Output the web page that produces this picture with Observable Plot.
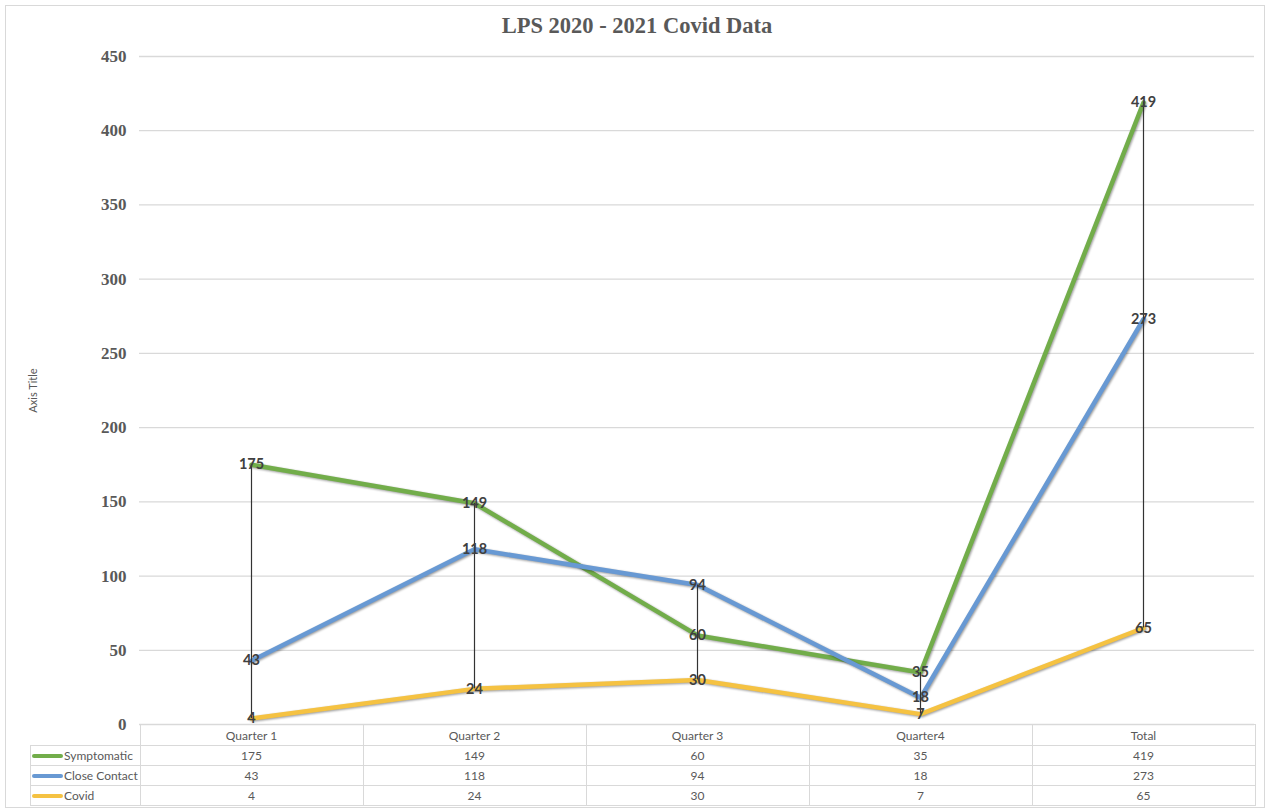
<!DOCTYPE html>
<html><head><meta charset="utf-8">
<script src="https://cdn.jsdelivr.net/npm/d3@7"></script>
<script src="https://cdn.jsdelivr.net/npm/@observablehq/plot@0.6"></script>
<style>
body{margin:0;background:#fff;width:1270px;height:811px;overflow:hidden;}
#frame{position:absolute;left:5px;top:5px;width:1260px;height:803px;border:1.5px solid #d9d9d9;box-sizing:border-box;}
#title{position:absolute;left:2px;width:1270px;top:13px;text-align:center;font:bold 22.5px "Liberation Serif","Times New Roman",serif;color:#595959;}
#chart{position:absolute;left:0;top:0;}
#table{position:absolute;left:30px;top:724px;border-collapse:collapse;table-layout:fixed;font:12px Lato,sans-serif;color:#595959;}
#table td{border:1.5px solid #d9d9d9;padding:0;text-align:center;white-space:nowrap;overflow:hidden;}
#table tr.head td{height:20px;}
#table tr.row td{height:19px;}
#table td.blank{border:none;border-bottom:1.5px solid #d9d9d9;}
#table td.key{text-align:left;padding-left:1px;}
.sw{display:inline-block;width:31px;height:4px;border-radius:2px;vertical-align:middle;margin-right:1px;position:relative;top:-1px;}
</style>
</head><body>
<div id="frame"></div>
<div id="chart"></div>
<div id="title">LPS 2020 - 2021 Covid Data</div>
<table id="table"></table>
<script>
const categories = ["Quarter 1", "Quarter 2", "Quarter 3", "Quarter4", "Total"];
const seriesNames = ["Symptomatic", "Close Contact", "Covid"];
const symptomatic = [175, 149, 60, 35, 419];
const closeContact = [43, 118, 94, 18, 273];
const covid = [4, 24, 30, 7, 65];
const yTicks = [0, 50, 100, 150, 200, 250, 300, 350, 400, 450];
const seriesColors = ["#72ad4a", "#6899d3", "#f5c242"];

const seriesValues = [symptomatic, closeContact, covid];
const data = [];
seriesNames.forEach((s, i) => categories.forEach((c, j) => data.push({series: s, category: c, value: seriesValues[i][j]})));
const hiLo = categories.map((c, j) => {
  const vals = seriesValues.map(v => v[j]);
  return {category: c, lo: d3.min(vals), hi: d3.max(vals)};
});

const plot = Plot.plot({
  width: 1270,
  height: 726,
  marginLeft: 139,
  marginRight: 16,
  marginTop: 56,
  marginBottom: 2,
  style: {background: "transparent", overflow: "visible"},
  x: {type: "point", domain: categories, padding: 0.5, axis: null},
  y: {domain: [0, 450]},
  color: {domain: seriesNames, range: seriesColors},
  marks: [
    Plot.gridY(yTicks, {stroke: "#d9d9d9", strokeOpacity: 1, strokeWidth: 1.3}),
    Plot.axisY(yTicks, {tickSize: 0, tickPadding: 13, fontSize: 17, fontWeight: "bold", fontFamily: "Liberation Serif", color: "#595959", label: null}),
    Plot.text(["Axis Title"], {frameAnchor: "left", rotate: -90, dx: -106, textAnchor: "middle", fontSize: 11, fontFamily: "Lato", fill: "#595959"}),
    Plot.line(data, {x: "category", y: "value", z: "series", stroke: "series", strokeWidth: 4.5, curve: "linear"}),
    Plot.ruleX(hiLo, {x: "category", y1: "lo", y2: "hi", stroke: "#333", strokeWidth: 1.2}),
    Plot.text(data, {x: "category", y: "value", text: d => String(d.value), fontWeight: "bold", fontSize: 14.5, fontFamily: "Lato", fill: "#404040"})
  ]
});
plot.querySelectorAll('g[aria-label="line"] path').forEach(p => p.style.filter = "drop-shadow(1px 1.5px 1px rgba(0,0,0,0.4))");
document.getElementById("chart").appendChild(plot);

// data table aligned with the x scale
const xs = plot.scale("x");
const step = xs.step !== undefined ? xs.step : (xs.apply(categories[1]) - xs.apply(categories[0]));
const left0 = xs.apply(categories[0]) - step / 2;
const table = document.getElementById("table");
const colgroup = document.createElement("colgroup");
const keyCol = document.createElement("col");
keyCol.style.width = (left0 - 30) + "px";
colgroup.appendChild(keyCol);
categories.forEach(() => { const c = document.createElement("col"); c.style.width = step + "px"; colgroup.appendChild(c); });
table.appendChild(colgroup);
table.style.width = (left0 - 30 + step * categories.length) + "px";
const head = document.createElement("tr"); head.className = "head";
const blank = document.createElement("td"); blank.className = "blank"; head.appendChild(blank);
categories.forEach(c => { const td = document.createElement("td"); td.textContent = c; head.appendChild(td); });
table.appendChild(head);
seriesNames.forEach((s, i) => {
  const tr = document.createElement("tr"); tr.className = "row";
  const k = document.createElement("td"); k.className = "key";
  const sw = document.createElement("span"); sw.className = "sw"; sw.style.background = seriesColors[i];
  k.appendChild(sw); k.appendChild(document.createTextNode(s));
  tr.appendChild(k);
  seriesValues[i].forEach(v => { const td = document.createElement("td"); td.textContent = v; tr.appendChild(td); });
  table.appendChild(tr);
});
</script>
</body></html>
